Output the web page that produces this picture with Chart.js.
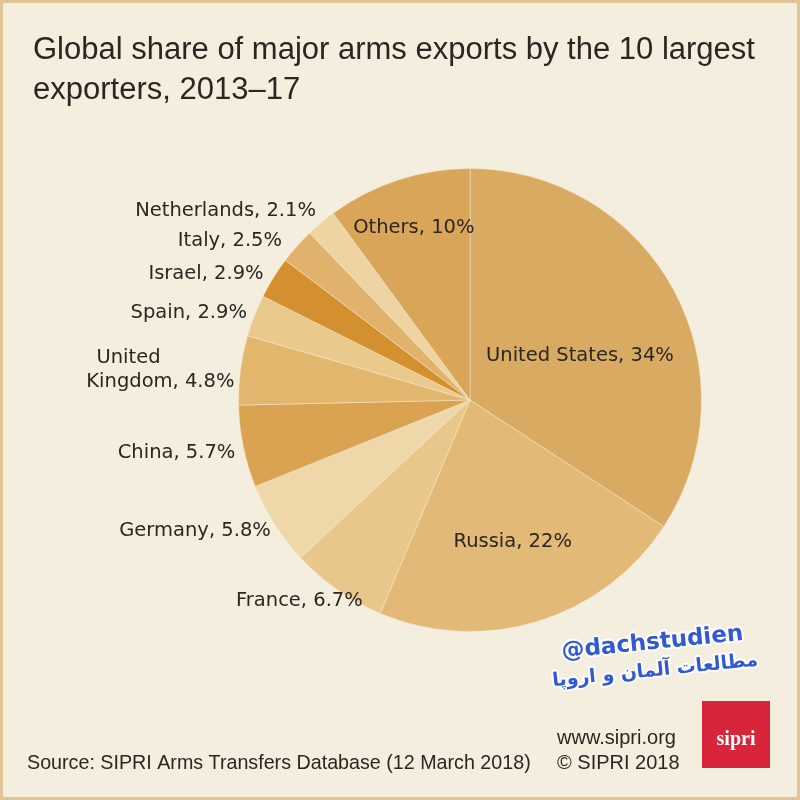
<!DOCTYPE html>
<html>
<head>
<meta charset="utf-8">
<script src="https://cdn.jsdelivr.net/npm/chart.js@4.4.1/dist/chart.umd.min.js"></script>
<style>
  html, body { margin: 0; padding: 0; background: #f4eedf; }
  #wrap { position: relative; width: 800px; height: 800px; box-sizing: border-box; border: 3px solid #dfc594; }
  canvas { position: absolute; left: 0; top: 0; }
</style>
</head>
<body>
<div id="wrap"><canvas id="pieChart" width="794" height="794"></canvas></div>
<script>
// chart data, clockwise from 12 o'clock
const countries = ["United States", "Russia", "France", "Germany", "China", "United Kingdom", "Spain", "Israel", "Italy", "Netherlands", "Others"];
const shares = [34, 22, 6.7, 5.8, 5.7, 4.8, 2.9, 2.9, 2.5, 2.1, 10];
const shareLabels = ["34%", "22%", "6.7%", "5.8%", "5.7%", "4.8%", "2.9%", "2.9%", "2.5%", "2.1%", "10%"];
const sliceColors = ["#d9ab62", "#e2b977", "#e9c78b", "#eed7a9", "#daa352", "#e3b66e", "#e9c98c", "#d4902f", "#e0b26b", "#edd4a2", "#d9a659"];

const titleLines = ["Global share of major arms exports by the 10 largest", "exporters, 2013\u201317"];
const sourceText = "Source: SIPRI Arms Transfers Database (12 March 2018)";

// labels drawn inside the slice: fraction of radius + small vertical nudge
const insideLabels = {
    "United States": { r: 0.54, dy: 15 },
    "Russia": { r: 0.63, dy: 2 },
    "Others": { r: 0.78, dy: 0 }
};

const labelPlugin = {
    id: "labelPlugin",
    afterDraw(chart) {
        const ctx = chart.ctx;
        const arcs = chart.getDatasetMeta(0).data;
        ctx.save();
        ctx.fillStyle = "#2b2622";
        ctx.font = "19.5px 'DejaVu Sans', sans-serif";
        ctx.textBaseline = "middle";
        arcs.forEach((arc, i) => {
            const p = arc.getProps(["x", "y", "startAngle", "endAngle", "outerRadius"], true);
            const mid = (p.startAngle + p.endAngle) / 2;
            const name = countries[i];
            const text = name + ", " + shareLabels[i];
            const inside = insideLabels[name];
            if (inside) {
                const r = p.outerRadius * inside.r;
                ctx.textAlign = "center";
                ctx.fillText(text, p.x + Math.cos(mid) * r, p.y + Math.sin(mid) * r + inside.dy);
                return;
            }
            const r = p.outerRadius + 8;
            let tx = p.x + Math.cos(mid) * r;
            let ty = p.y + Math.sin(mid) * r;
            // small hand nudges to follow the original layout
            if (name === "France") { tx += 30; ty += 5; }
            if (name === "Netherlands") { ty -= 6; }
            if (name === "Italy") { tx -= 9; }
            if (name === "Israel") { tx -= 3; }
            if (name === "Germany") { tx += 3; ty += 3; }
            if (name === "China") { ty += 5; }
            ctx.textAlign = "right";
            if (name === "United Kingdom") {
                ctx.textAlign = "center";
                ctx.fillText("United", tx - 104, ty - 11);
                ctx.textAlign = "right";
                ctx.fillText("Kingdom, " + shareLabels[i], tx + 2, ty + 13);
            } else {
                ctx.fillText(text, tx, ty);
            }
        });
        ctx.restore();
    }
};

const framePlugin = {
    id: "framePlugin",
    afterDraw(chart) {
        const ctx = chart.ctx;
        ctx.save();
        // title
        ctx.fillStyle = "#2b2622";
        ctx.textAlign = "left";
        ctx.textBaseline = "alphabetic";
        ctx.font = "31px 'Liberation Sans Narrow', 'Arial Narrow', sans-serif";
        ctx.fillText(titleLines[0], 30, 56);
        ctx.fillText(titleLines[1], 30, 96);
        // footer
        ctx.font = "19.7px 'Liberation Sans Narrow', 'Arial Narrow', sans-serif";
        ctx.fillText(sourceText, 24, 766);
        ctx.font = "20px 'Liberation Sans Narrow', 'Arial Narrow', sans-serif";
        ctx.fillText("www.sipri.org", 554, 741);
        ctx.fillText("\u00a9 SIPRI 2018", 554, 766);
        // logo
        ctx.fillStyle = "#d9253b";
        ctx.fillRect(699, 698, 68, 67);
        ctx.fillStyle = "#ffffff";
        ctx.font = "bold 20px 'Liberation Serif', serif";
        ctx.textAlign = "center";
        ctx.fillText("sipri", 733, 742);
        // watermark
        ctx.translate(650, 646);
        ctx.rotate(-0.1);
        ctx.lineJoin = "round";
        ctx.font = "bold 23px 'DejaVu Sans', sans-serif";
        ctx.strokeStyle = "#ffffff";
        ctx.lineWidth = 4;
        ctx.strokeText("@dachstudien", 0, 0);
        ctx.fillStyle = "#3159d4";
        ctx.fillText("@dachstudien", 0, 0);
        ctx.font = "bold 19px 'DejaVu Sans', sans-serif";
        ctx.strokeText("مطالعات آلمان و اروپا", 0, 27);
        ctx.fillText("مطالعات آلمان و اروپا", 0, 27);
        ctx.restore();
    }
};

new Chart(document.getElementById("pieChart").getContext("2d"), {
    type: "pie",
    data: {
        labels: countries,
        datasets: [{
            data: shares,
            backgroundColor: sliceColors,
            borderColor: "rgba(246, 232, 204, 0.5)",
            borderWidth: 1
        }]
    },
    options: {
        responsive: false,
        animation: false,
        layout: {
            padding: { left: 235, right: 95, top: 165, bottom: 165 }
        },
        plugins: {
            legend: { display: false },
            tooltip: { enabled: false }
        }
    },
    plugins: [labelPlugin, framePlugin]
});
</script>
</body>
</html>
